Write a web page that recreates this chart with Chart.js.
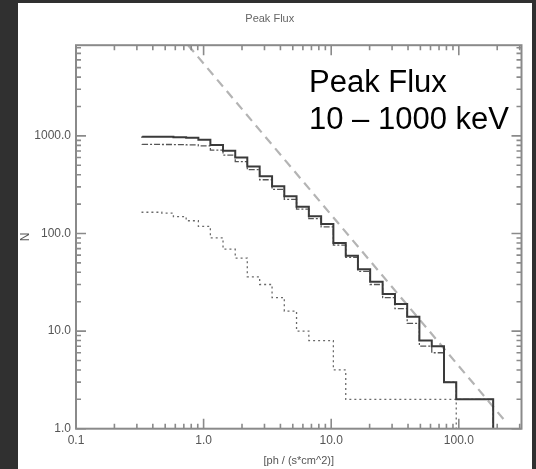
<!DOCTYPE html>
<html>
<head>
<meta charset="utf-8">
<script src="https://cdn.jsdelivr.net/npm/chart.js@4.4.1/dist/chart.umd.min.js"></script>
<style>
  html, body { margin: 0; padding: 0; background: #303030; }
  #wrap { position: absolute; left: 18px; top: 3px; width: 514px; height: 466px; background: #fff; }
</style>
</head>
<body>
<div id="wrap"><canvas id="flux-chart" width="514" height="466"></canvas></div>
<script>
// bin edges of the peak flux histogram [ph/(s*cm^2)]
var fluxEdges = [0.33, 0.47, 0.58, 0.73, 0.91, 1.13, 1.42, 1.77, 2.2, 2.75, 3.44, 4.29, 5.35, 6.68,
                 8.34, 10.4, 13.0, 16.2, 20.2, 25.3, 31.6, 39.4, 49.1, 61.4, 76.6, 95.5, 119, 149, 186];
// cumulative counts N(>S) per bin
var allBursts   = [985, 982, 978, 970, 955, 910, 805, 705, 600, 485, 385, 305, 240, 188,
                   150, 125, 80, 59, 43, 32, 24, 19, 14, 8, 7, 3, 2, 2];
var longBursts  = [820, 818, 816, 815, 810, 790, 715, 635, 545, 450, 355, 283, 224, 178,
                   142, 117, 76, 57, 41, 30, 22, 17, 12, 7, 6, 3, 2, 2];
var shortBursts = [168, 165, 162, 149, 135, 118, 90, 69, 56, 36, 30, 22, 16, 10,
                   8, 8, 4, 2, 2, 2, 2, 2, 2, 2, 2];
// -3/2 power law reference line
var powerLawFlux = [0.756, 237];
var powerLawN    = [8490, 1.15];

var xTickValues = [0.1, 1, 10, 100];
var yTickValues = [1, 10, 100, 1000];

var axisFont = { family: "'Liberation Sans', Arial, sans-serif", size: 12 };

var stepPoints = function(edges, counts) {
   var pts = [];
   for (var i = 0; i < counts.length; i++) {
      pts.push({ x: edges[i], y: counts[i] });
   }
   var last = edges[counts.length];
   pts.push({ x: last, y: counts[counts.length - 1] });
   pts.push({ x: last, y: 1 });
   return pts;
};

// IDL-like box with inward ticks on all four sides
var boxTicks = {
   id: 'boxTicks',
   afterDatasetsDraw: function(chart) {
      var ctx = chart.ctx, a = chart.chartArea;
      var xs = chart.scales.x, ys = chart.scales.y;
      ctx.save();
      ctx.strokeStyle = '#8a8a8a';
      ctx.lineWidth = 2;
      ctx.strokeRect(a.left, a.top, a.right - a.left, a.bottom - a.top);
      ctx.lineWidth = 1.6;
      var each = function(scale, fn) {
         var lo = Math.floor(Math.log10(scale.min)), hi = Math.ceil(Math.log10(scale.max));
         for (var d = lo; d <= hi; d++) {
            for (var m = 1; m <= 9; m++) {
               var v = m * Math.pow(10, d);
               if (v < scale.min * 0.999 || v > scale.max * 1.001) continue;
               fn(scale.getPixelForValue(v), m === 1 ? 10 : 5);
            }
         }
      };
      ctx.beginPath();
      each(xs, function(px, len) {
         ctx.moveTo(px, a.bottom); ctx.lineTo(px, a.bottom - len);
         ctx.moveTo(px, a.top); ctx.lineTo(px, a.top + len);
      });
      each(ys, function(py, len) {
         ctx.moveTo(a.left, py); ctx.lineTo(a.left + len, py);
         ctx.moveTo(a.right, py); ctx.lineTo(a.right - len, py);
      });
      ctx.stroke();
      ctx.restore();
   },
   afterDraw: function(chart) {
      var ctx = chart.ctx, a = chart.chartArea;
      ctx.save();
      ctx.fillStyle = '#000';
      ctx.font = "31px 'Liberation Sans', Arial, sans-serif";
      ctx.textBaseline = 'alphabetic';
      ctx.fillText('Peak Flux', a.left + 233, a.top + 47);
      ctx.fillText('10 \u2013 1000 keV', a.left + 233, a.top + 84);
      ctx.restore();
   }
};

var config = {
   type: 'line',
   data: {
      datasets: [{
         label: 'all',
         data: stepPoints(fluxEdges, allBursts),
         stepped: 'after',
         borderColor: '#3a3a3a',
         borderWidth: 2,
         pointRadius: 0
      }, {
         label: 'long',
         data: stepPoints(fluxEdges, longBursts),
         stepped: 'after',
         borderColor: '#555',
         borderWidth: 1.3,
         borderDash: [6, 2, 2, 2],
         pointRadius: 0
      }, {
         label: 'short',
         data: stepPoints(fluxEdges, shortBursts),
         stepped: 'after',
         borderColor: '#6a6a6a',
         borderWidth: 1.3,
         borderDash: [2, 3],
         pointRadius: 0
      }, {
         label: 'power law',
         data: powerLawFlux.map(function(f, i) { return { x: f, y: powerLawN[i] }; }),
         borderColor: '#b4b4b4',
         borderWidth: 2.2,
         borderDash: [9, 6],
         pointRadius: 0
      }]
   },
   options: {
      responsive: false,
      animation: false,
      layout: { padding: { right: 10.5 } },
      plugins: {
         legend: { display: false },
         tooltip: { enabled: false },
         title: {
            display: true,
            text: 'Peak Flux',
            color: '#666',
            font: { family: axisFont.family, size: 11, weight: 'normal' },
            padding: { top: 9, bottom: 20 }
         }
      },
      scales: {
         x: {
            type: 'logarithmic',
            min: 0.1,
            max: 310,
            grid: { display: false, drawTicks: false },
            border: { display: false },
            afterBuildTicks: function(s) { s.ticks = xTickValues.map(function(v) { return { value: v }; }); },
            afterFit: function(s) { s.height = 40.3; },
            ticks: {
               color: '#555',
               font: axisFont,
               padding: 5,
               maxRotation: 0,
               autoSkip: false,
               callback: function(v) { return Number(v).toFixed(1); }
            },
            title: {
               display: true,
               text: '[ph / (s*cm^2)]',
               color: '#555',
               font: { family: axisFont.family, size: 11 },
               padding: { top: 0, bottom: 1 }
            }
         },
         y: {
            type: 'logarithmic',
            min: 1,
            max: 8490,
            grid: { display: false, drawTicks: false },
            border: { display: false },
            afterBuildTicks: function(s) { s.ticks = yTickValues.map(function(v) { return { value: v }; }); },
            afterFit: function(s) { s.width = 58; },
            ticks: {
               color: '#555',
               font: axisFont,
               padding: 5,
               autoSkip: false,
               callback: function(v) { return Number(v).toFixed(1); }
            },
            title: {
               display: true,
               text: 'N',
               color: '#555',
               font: { family: axisFont.family, size: 12 },
               padding: { top: 0, bottom: 0 }
            }
         }
      }
   },
   plugins: [boxTicks]
};

var ctx = document.getElementById('flux-chart').getContext('2d');
var chart = new Chart(ctx, config);
</script>
</body>
</html>
